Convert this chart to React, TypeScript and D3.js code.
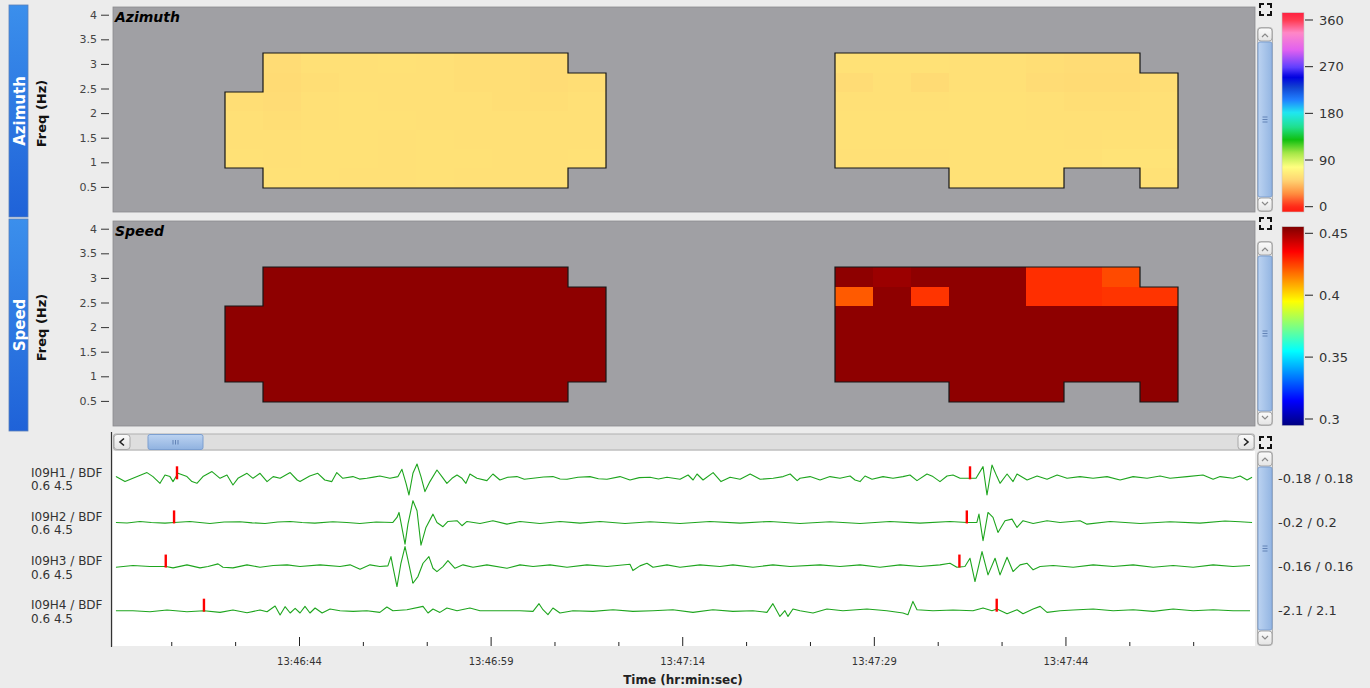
import React from "react";
import * as d3 from "d3";

// ---------------- data ----------------
// frequency bins (Hz), index 0 = lowest bin
const freqBinEdges = [0.49, 0.885, 1.275, 1.665, 2.055, 2.445, 2.835, 3.225];
const freqTicks = [0.5, 1, 1.5, 2, 2.5, 3, 3.5, 4];
// time in seconds after 13:46:29
const event1ColumnStarts = [9.17, 12.16, 15.14, 18.13, 21.11, 24.1, 27.08, 30.07, 33.05, 36.04];
const event2ColumnStarts = [56.92, 59.91, 62.89, 65.88, 68.86, 71.85, 74.83, 77.82, 80.8];
const columnWidthSec = 2.985;

// azimuth (deg); rows from lowest freq bin upward
const azimuthEvent1 = [
  [null, 59, 59, 58, 58, 59, 58, 58, 58, null],
  [59, 58, 59, 59, 58, 59, 59, 58, 58, 59],
  [58, 58, 59, 59, 58, 59, 58, 58, 58, 58],
  [58, 57, 58, 59, 59, 58, 58, 58, 58, 58],
  [57, 56, 58, 59, 58, 58, 58, 57, 57, 58],
  [null, 55, 57, 58, 58, 58, 57, 57, 56, 57],
  [null, 56, 58, 58, 59, 58, 57, 57, 56, null],
];
const azimuthEvent2 = [
  [null, null, null, 59, 59, 59, null, null, 59],
  [58, 58, 58, 59, 59, 59, 59, 60, 60],
  [59, 59, 59, 59, 59, 59, 58, 59, 59],
  [59, 59, 59, 59, 59, 58, 58, 58, 58],
  [58, 58, 58, 59, 59, 58, 57, 57, 58],
  [56, 58, 55, 58, 58, 56, 55, 55, 57],
  [59, 59, 59, 58, 58, 57, 56, 56, null],
];
// apparent speed (km/s)
const speedEvent1 = [
  [null, 0.453, 0.453, 0.453, 0.453, 0.453, 0.453, 0.453, 0.453, null],
  [0.453, 0.453, 0.453, 0.453, 0.453, 0.453, 0.453, 0.453, 0.453, 0.453],
  [0.453, 0.453, 0.453, 0.453, 0.453, 0.453, 0.453, 0.453, 0.453, 0.453],
  [0.453, 0.453, 0.453, 0.453, 0.453, 0.453, 0.453, 0.453, 0.453, 0.453],
  [0.453, 0.453, 0.453, 0.453, 0.453, 0.453, 0.453, 0.453, 0.453, 0.453],
  [null, 0.453, 0.453, 0.453, 0.453, 0.453, 0.453, 0.453, 0.453, 0.453],
  [null, 0.453, 0.453, 0.453, 0.453, 0.453, 0.453, 0.453, 0.453, null],
];
const speedEvent2 = [
  [null, null, null, 0.453, 0.453, 0.453, null, null, 0.453],
  [0.453, 0.453, 0.453, 0.453, 0.453, 0.453, 0.453, 0.453, 0.453],
  [0.453, 0.453, 0.453, 0.453, 0.453, 0.453, 0.453, 0.453, 0.453],
  [0.453, 0.453, 0.453, 0.453, 0.453, 0.453, 0.453, 0.453, 0.453],
  [0.453, 0.453, 0.453, 0.453, 0.453, 0.453, 0.453, 0.453, 0.453],
  [0.421, 0.453, 0.427, 0.453, 0.453, 0.428, 0.428, 0.427, 0.427],
  [0.453, 0.451, 0.453, 0.453, 0.453, 0.428, 0.428, 0.4235, null],
];

const azimuthTicks = [0, 90, 180, 270, 360];
const speedTicks = [0.3, 0.35, 0.4, 0.45];
const azimuthColorValues = [-10, 0, 26, 51, 77, 103, 129, 154, 181, 206, 231, 250, 269, 302, 335, 360, 374];
const azimuthColorList = ["#ff1a10", "#ff2a18", "#ff9040", "#ffd472", "#ffff80", "#a8e848", "#10c010", "#20e090", "#20e8f0", "#2080ff", "#1040d0", "#0000e0", "#6040ff", "#e060f0", "#ff88c8", "#ff3a50", "#ff2040"];

const channelNames = ["I09H1 / BDF", "I09H2 / BDF", "I09H3 / BDF", "I09H4 / BDF"];
const channelFilters = ["0.6 4.5", "0.6 4.5", "0.6 4.5", "0.6 4.5"];
const channelRanges = [0.18, 0.2, 0.16, 2.1];
const channelCalib = [0.00818, 0.00909, 0.00727, 0.0955];
const pickTimes = [[5.41, 67.49], [5.18, 67.24], [4.53, 66.66], [7.52, 69.58]];

// traces: [seconds after 13:46:29, counts]
const traceH1 = [
  [0.63, 1.7], [1.34, -3.3], [1.96, 0], [3.06, 5.7], [3.53, 1.7], [4.08, -5], [4.47, 3.3], [4.86, 1.7], [5.1, -3.3], [5.49, 5], [6.19, 1.7], [6.58, -3.3], [6.97, -5], [7.44, 1.7], [8.15, 6.7], [8.78, 0], [9.32, 3.3], [9.79, -6.7], [10.18, 0], [10.89, 5], [11.36, 0], [11.91, 5], [12.46, -3.3], [12.94, 1.7], [13.48, 0], [14.27, 5.7], [14.82, -1.7], [15.04, -3.3], [15.8, 2.3], [16.43, 5], [16.98, -1.7], [17.53, -3.3], [17.92, 5.7], [18.39, 0], [19.18, 1.7], [19.7, -0.8], [20.27, 0], [20.8, 1.2], [21.29, 2.3], [22.08, 0], [22.71, 1.7], [23.02, 9], [23.34, -5], [23.57, -16.7], [23.88, 5], [24.2, 14.3], [24.51, 1.7], [24.82, -13.3], [25.21, -3.3], [25.76, 8.3], [26.15, 1.7], [26.54, -5], [26.94, 0], [27.33, 3.3], [27.72, 0], [28.03, -5], [28.34, 4.3], [28.89, 0], [29.67, -2.3], [30.14, 4.3], [30.69, -1.7], [31.3, 1], [32.02, 1.7], [32.6, -1], [33.28, 0], [34.1, 1.3], [34.84, 1.7], [35.4, -0.7], [35.94, -1], [36.8, 1], [37.74, 1.7], [38.4, -0.5], [39.07, -1], [40.09, 1.7], [40.87, -1.7], [41.6, 0.7], [42.44, 1], [43.1, -0.7], [43.77, 1], [44.79, -1], [45.42, 3.3], [45.81, -1.7], [46.12, 4.3], [46.59, -1.7], [47.38, 5.7], [48.0, -3.3], [48.71, 1], [49.49, -1], [50.28, 4.3], [51.06, -1], [52.08, 0], [52.86, 1.7], [53.41, 4.3], [53.96, -2.3], [54.18, 0], [54.97, 1.7], [55.75, -1.7], [56.53, 1.7], [57.31, 0], [58.1, 2.3], [58.49, -1.7], [58.88, -3.3], [59.27, 2.3], [59.82, -1], [60.68, 1.7], [61.46, 0], [62.24, 1.7], [62.79, 3.3], [63.34, -2.3], [64.12, 4.3], [64.59, 1.7], [65.14, -3.3], [65.69, 2.3], [66.16, 3.3], [66.71, 0], [67.49, 0], [67.96, 0], [68.51, 11.7], [68.82, -16.7], [69.21, 13.3], [69.6, 1.7], [69.84, -5], [70.39, 4.3], [70.86, -3.3], [71.17, 4.3], [71.96, -1.7], [72.74, 2.3], [73.52, -1], [74.31, 3.3], [75.09, 0], [76.1, 1.7], [77.12, 0], [78.22, 1.7], [79.24, -1.7], [80.26, 1.7], [81.35, 0], [82.37, 2.3], [83.15, 0], [84.48, 1.7], [85.73, 3.3], [86.52, -1], [87.07, 1.7], [88.08, 0], [88.63, 2.3], [89.18, -1.7], [89.57, 1],
];
const traceH2 = [
  [0.63, 0], [1.5, -0.6], [2.51, 1], [3.4, 0], [4.47, -0.7], [5.18, 0], [6.42, 1], [7.2, 0], [7.99, -1], [9.1, 0.5], [10.34, 0.7], [11.3, -0.4], [12.3, -1], [13.3, 0.4], [14.27, 1], [15.2, 0], [16.2, -0.7], [17.61, 0.7], [18.7, 0], [19.73, -1], [21.0, 0.5], [22.31, 0], [22.63, 5], [22.79, 10], [22.94, 0], [23.26, -21.7], [23.49, -1.7], [23.88, 21.7], [24.2, 11.7], [24.51, -22.7], [24.9, -5], [25.45, 8.3], [25.76, 0], [26.23, -4.3], [26.62, 1], [27.33, 1.7], [27.72, -3.3], [28.11, 1], [29.13, -1], [30.14, 1.7], [31.24, -1.7], [32.26, 1], [33.82, -1], [35.39, 1], [36.96, -0.7], [38.52, 1], [40.48, -1], [42.44, 0.7], [44.79, -1], [47.13, 1], [49.49, -0.7], [51.84, 1], [54.18, -1], [56.53, 0.7], [58.88, -1], [61.22, 1], [63.57, -0.7], [65.92, 1], [67.24, 0], [68.03, 0], [68.19, 8.3], [68.51, -18.3], [68.9, 10], [69.29, 5], [69.68, -10], [70.23, 1.7], [70.78, 3.3], [71.17, -5], [71.64, 1.7], [72.43, -1], [73.52, 1.7], [74.54, 0], [76.1, 1.7], [76.65, -1.7], [78.46, 1], [80.81, -1], [83.15, 0.7], [85.49, -0.7], [87.45, 1.5], [88.63, 0.7], [89.57, 0],
];
const traceH3 = [
  [0.63, -0.7], [1.96, 1], [3.29, 0], [4.55, 0], [5.1, -1.3], [6.19, 1.7], [7.21, -1.3], [7.84, 0], [8.62, 2.7], [9.01, -0.7], [9.79, -1.3], [10.89, 1.7], [11.91, -0.7], [12.94, 1], [14.03, 1.7], [15.04, 0], [16.61, 1.7], [18.17, 0], [18.96, 1.7], [19.74, -2.7], [20.52, 1.7], [21.29, 0], [21.92, 0.7], [22.16, 10], [22.31, 0], [22.63, -20], [22.94, 3.3], [23.26, 20], [23.49, 6.7], [23.88, -16.7], [24.27, -10], [24.67, 3.3], [25.13, 10], [25.45, -1.7], [25.76, -5], [26.23, 0], [26.62, 6], [27.17, -1.7], [27.8, 1.7], [28.58, -0.7], [29.67, 1.7], [31.24, -1.7], [32.26, 1.7], [33.28, 0], [34.61, 1.7], [35.94, -0.7], [37.5, 1.7], [39.07, 0], [40.87, 2.3], [41.1, -4], [41.65, 0.7], [42.2, 3.3], [42.67, -0.7], [43.77, 1.7], [44.79, -0.7], [46.35, 1.7], [47.91, 0], [48.93, 1.7], [50.5, -0.7], [52.06, 1.7], [53.4, 0], [55.75, 1.7], [57.31, 0], [58.88, 1.7], [60.44, -0.7], [62.01, 1.7], [63.57, 0], [65.14, 1.7], [65.92, 3.3], [66.46, -0.7], [67.09, 0], [67.49, 8.3], [67.88, -15], [68.43, 15], [68.9, -8.3], [69.45, 8.3], [69.84, -8.3], [70.39, 9.3], [70.86, -5], [71.41, 1.7], [71.96, 3.3], [72.43, -3.3], [72.98, 0], [74.0, 1], [75.57, -0.7], [77.13, 1.7], [78.7, 0], [80.26, 1.7], [81.83, -0.7], [83.39, 1], [84.96, -0.7], [86.52, 1.7], [88.08, 0], [89.41, 1],
];
const traceH4 = [
  [0.63, 0], [1.96, 0], [3.29, -1], [4.63, 0.7], [6.19, -1], [7.52, 0], [8.78, -1.7], [9.79, 0.7], [10.89, -2], [11.91, 0.7], [12.46, -1], [13.09, 4.7], [13.48, -4.3], [13.87, 4], [14.27, -2.3], [14.66, 2.3], [15.04, -2.3], [15.43, 4.3], [15.82, -2.3], [16.22, 2.7], [16.77, -2.3], [17.39, 1.7], [18.17, 0], [19.2, -0.7], [20.27, 0], [21.29, -1.7], [21.84, 3.7], [22.31, 0], [23.41, 1], [24.67, 4.3], [25.06, -2.3], [25.45, 1.7], [25.99, -1.7], [26.54, 2.7], [27.33, 0], [28.34, 2.7], [29.13, 0], [30.69, 0], [32.26, 0], [33.28, -0.7], [33.75, 7], [34.06, 1], [34.45, -4], [34.84, 2.7], [35.39, -2.3], [36.41, 0], [37.97, -0.7], [39.54, 1], [41.1, -0.7], [42.67, 0], [44.23, 1], [45.8, -1.7], [47.36, 1], [48.93, -0.7], [50.49, 0], [51.59, -1.7], [52.06, 7], [52.61, -5.7], [53.0, 0], [53.24, -5.7], [53.63, 1.7], [54.18, 0], [55.2, -2.3], [56.29, 1.7], [57.54, 0], [59.42, 1.7], [60.98, 0], [62.24, -2.3], [62.63, -4], [63.02, 9.3], [63.34, 1], [64.59, 0], [66.16, 0.7], [67.72, 0], [68.51, 2.7], [69.21, 0], [69.6, 1.7], [70.39, -3], [71.17, 1], [71.64, -3], [72.43, 1.7], [72.98, 4.3], [73.52, -1.7], [74.54, 0], [75.57, 0.7], [77.13, 1.7], [78.7, 0], [80.26, 1], [81.83, -0.7], [83.39, 1.7], [84.96, 0], [86.52, 1], [88.08, 0], [89.41, 0],
];
const traces = [traceH1, traceH2, traceH3, traceH4];

const majorTickTimes = [15, 30, 45, 60, 75];
const majorTickLabels = ["13:46:44", "13:46:59", "13:47:14", "13:47:29", "13:47:44"];
const minorTickTimes = [5, 10, 20, 25, 35, 40, 50, 55, 65, 70, 80, 85];

// ---------------- helpers ----------------
const FONT = "DejaVu Sans";

function jet(v: number) {
  const c = (n: number) => Math.max(0, Math.min(1, n));
  const r = c(1.5 - Math.abs(4 * v - 3));
  const g = c(1.5 - Math.abs(4 * v - 2));
  const b = c(1.5 - Math.abs(4 * v - 1));
  return d3.rgb(r * 255, g * 255, b * 255).formatHex();
}

function ExpandIcon({ x, y }: { x: number; y: number }) {
  const s = 11, a = 4;
  const d = `M${x} ${y + a}V${y}H${x + a} M${x + s - a} ${y}H${x + s}V${y + a} M${x + s} ${y + s - a}V${y + s}H${x + s - a} M${x + a} ${y + s}H${x}V${y + s - a}`;
  return <path d={d} fill="none" stroke="#111" strokeWidth={2} />;
}

function VScroll({ x, y0, y1, t0, t1 }: { x: number; y0: number; y1: number; t0: number; t1: number }) {
  const w = 15;
  const mid = (t0 + t1) / 2;
  return (
    <g>
      <rect x={x + 0.5} y={y0 + 0.5} width={w} height={y1 - y0 - 1} rx={3} fill="#e2e2e2" stroke="#b0b0b0" />
      <rect x={x + 1} y={y0 + 1} width={w - 1} height={t0 - y0 - 2} rx={3} fill="url(#btnGradV)" stroke="#a8a8a8" />
      <path d={`M${x + 5} ${y0 + 10} L${x + 8} ${y0 + 7} L${x + 11} ${y0 + 10}`} fill="none" stroke="#8a8a8a" strokeWidth={1.2} />
      <rect x={x + 1} y={t0} width={w - 1} height={t1 - t0} rx={2} fill="url(#thumbGradV)" stroke="#7c9fd0" />
      {[-2.5, 0, 2.5].map((d, i) => (
        <line key={i} x1={x + 5.5} x2={x + 10.5} y1={mid + d} y2={mid + d} stroke="#5a7cb0" strokeWidth={0.9} />
      ))}
      <rect x={x + 1} y={t1 + 1} width={w - 1} height={y1 - t1 - 2} rx={3} fill="url(#btnGradV)" stroke="#a8a8a8" />
      <path d={`M${x + 5} ${y1 - 10} L${x + 8} ${y1 - 7} L${x + 11} ${y1 - 10}`} fill="none" stroke="#8a8a8a" strokeWidth={1.2} />
    </g>
  );
}

function HScroll({ x0, x1, y, t0, t1 }: { x0: number; x1: number; y: number; t0: number; t1: number }) {
  const h = 16;
  const mid = (t0 + t1) / 2;
  return (
    <g>
      <rect x={x0 + 0.5} y={y + 0.5} width={x1 - x0 - 1} height={h} rx={2} fill="#dedede" stroke="#b0b0b0" />
      <rect x={x0 + 1} y={y + 1} width={16} height={h - 1} rx={3} fill="url(#btnGradH)" stroke="#a8a8a8" />
      <path d={`M${x0 + 11} ${y + 5} L${x0 + 7} ${y + 8.5} L${x0 + 11} ${y + 12}`} fill="none" stroke="#222" strokeWidth={1.6} />
      <rect x={t0} y={y + 1} width={t1 - t0} height={h - 1} rx={2} fill="url(#thumbGradH)" stroke="#7c9fd0" />
      {[-2.5, 0, 2.5].map((d, i) => (
        <line key={i} x1={mid + d} x2={mid + d} y1={y + 6.5} y2={y + 11} stroke="#5a7cb0" strokeWidth={0.9} />
      ))}
      <rect x={x1 - 17} y={y + 1} width={16} height={h - 1} rx={3} fill="url(#btnGradH)" stroke="#a8a8a8" />
      <path d={`M${x1 - 11} ${y + 5} L${x1 - 7} ${y + 8.5} L${x1 - 11} ${y + 12}`} fill="none" stroke="#222" strokeWidth={1.6} />
    </g>
  );
}

type Matrix = (number | null)[][];

function Cells({ matrix, starts, xS, yS, color }: { matrix: Matrix; starts: number[]; xS: any; yS: any; color: (v: number) => string }) {
  const rects: any[] = [];
  const segs: string[] = [];
  const has = (r: number, c: number) => matrix[r] !== undefined && matrix[r][c] !== undefined && matrix[r][c] !== null;
  matrix.forEach((row, r) =>
    row.forEach((v, c) => {
      if (v === null) return;
      const xa = Math.round(xS(starts[c]));
      const xb = Math.round(xS(starts[c] + columnWidthSec));
      const ya = Math.round(yS(freqBinEdges[r]));
      const yb = Math.round(yS(freqBinEdges[r + 1]));
      rects.push(<rect key={`${r}-${c}`} x={xa} y={yb} width={xb - xa} height={ya - yb} fill={color(v)} />);
      if (!has(r, c - 1)) segs.push(`M${xa} ${ya}V${yb}`);
      if (!has(r, c + 1)) segs.push(`M${xb} ${ya}V${yb}`);
      if (!has(r - 1, c)) segs.push(`M${xa} ${ya}H${xb}`);
      if (!has(r + 1, c)) segs.push(`M${xa} ${yb}H${xb}`);
    })
  );
  return (
    <g>
      <g shapeRendering="crispEdges">{rects}</g>
      <path d={segs.join("")} fill="none" stroke="#161616" strokeWidth={1.2} strokeLinecap="square" />
    </g>
  );
}

export default function App() {
  const W = 1370, H = 688;
  const plotL = 113, plotR = 1255;
  const xS = d3.scaleLinear().domain([0.4, 89.8]).range([plotL, plotR]);

  const panels = [
    { key: "az", top: 7, bottom: 212, title: "Azimuth", tab: [5, 217] },
    { key: "sp", top: 221, bottom: 426, title: "Speed", tab: [219, 431] },
  ];
  const azY = d3.scaleLinear().domain([0, 4.167]).range([panels[0].bottom, panels[0].top]);
  const spY = d3.scaleLinear().domain([0, 4.167]).range([panels[1].bottom, panels[1].top]);

  const azColor = d3.scaleLinear<string>().domain(azimuthColorValues).range(azimuthColorList).interpolate(d3.interpolateRgb).clamp(true);
  const spNorm = d3.scaleLinear().domain([0.2946, 0.4553]).range([0, 1]).clamp(true);
  const spColor = (v: number) => jet(spNorm(v));

  const azCb = d3.scaleLinear().domain([0, 360]).range([206.7, 20]);
  const spCb = d3.scaleLinear().domain([0.3, 0.45]).range([419, 233.3]);
  const azBar = [12.7, 212];
  const spBar = [226.7, 425.7];
  const N = 80;
  const azStops = d3.range(N + 1).map((i) => ({ o: i / N, c: azColor(azCb.invert(azBar[0] + ((azBar[1] - azBar[0]) * i) / N)) }));
  const spStops = d3.range(N + 1).map((i) => ({ o: i / N, c: spColor(spCb.invert(spBar[0] + ((spBar[1] - spBar[0]) * i) / N)) }));

  const waveTop = 451, waveBottom = 646;
  const centers = channelNames.map((_, i) => 478.3 + i * 44.13);

  return (
    <svg width={W} height={H} style={{ position: "absolute", left: 0, top: 0, fontFamily: FONT }}>
      <defs>
        <linearGradient id="tabGrad" x1="0" y1="0" x2="0" y2="1">
          <stop offset="0" stopColor="#3b8fec" />
          <stop offset="1" stopColor="#1f62d8" />
        </linearGradient>
        <linearGradient id="btnGradV" x1="0" y1="0" x2="0" y2="1">
          <stop offset="0" stopColor="#fbfbfb" />
          <stop offset="1" stopColor="#e4e4e4" />
        </linearGradient>
        <linearGradient id="btnGradH" x1="0" y1="0" x2="0" y2="1">
          <stop offset="0" stopColor="#fbfbfb" />
          <stop offset="1" stopColor="#e2e2e2" />
        </linearGradient>
        <linearGradient id="thumbGradV" x1="0" y1="0" x2="1" y2="0">
          <stop offset="0" stopColor="#bcd3f1" />
          <stop offset="1" stopColor="#93b5e2" />
        </linearGradient>
        <linearGradient id="thumbGradH" x1="0" y1="0" x2="0" y2="1">
          <stop offset="0" stopColor="#bcd3f1" />
          <stop offset="1" stopColor="#90b2e0" />
        </linearGradient>
        <linearGradient id="azBarGrad" x1="0" y1="0" x2="0" y2="1">
          {azStops.map((s, i) => <stop key={i} offset={s.o} stopColor={s.c} />)}
        </linearGradient>
        <linearGradient id="spBarGrad" x1="0" y1="0" x2="0" y2="1">
          {spStops.map((s, i) => <stop key={i} offset={s.o} stopColor={s.c} />)}
        </linearGradient>
        <clipPath id="waveClip">
          <rect x={plotL} y={waveTop} width={plotR - plotL} height={waveBottom - waveTop} />
        </clipPath>
      </defs>

      <rect x={0} y={0} width={W} height={H} fill="#ececec" />

      {panels.map((p, pi) => {
        const yS = pi === 0 ? azY : spY;
        return (
          <g key={p.key}>
            <rect x={9} y={p.tab[0]} width={19} height={p.tab[1] - p.tab[0]} fill="url(#tabGrad)" stroke="#5b7fb8" strokeWidth={0.8} />
            <text transform={`translate(19.5,${(p.tab[0] + p.tab[1]) / 2}) rotate(-90)`} textAnchor="middle" dominantBaseline="central" fill="#fff" fontWeight="bold" fontSize={15}>
              {p.title}
            </text>
            <text transform={`translate(41,${(p.top + p.bottom) / 2 + 4}) rotate(-90)`} textAnchor="middle" dominantBaseline="central" fill="#111" fontWeight="bold" fontSize={13}>
              Freq (Hz)
            </text>
            {freqTicks.map((f) => (
              <g key={f}>
                <line x1={101} x2={109} y1={yS(f)} y2={yS(f)} stroke="#333" strokeWidth={1} />
                <text x={97} y={yS(f)} textAnchor="end" dominantBaseline="central" fontSize={11} fill="#444">
                  {f}
                </text>
              </g>
            ))}
            <rect x={plotL} y={p.top} width={plotR - plotL} height={p.bottom - p.top} fill="#a0a0a4" stroke="#8a8a8e" strokeWidth={0.8} />
            {pi === 0 ? (
              <>
                <Cells matrix={azimuthEvent1} starts={event1ColumnStarts} xS={xS} yS={yS} color={(v) => azColor(v)} />
                <Cells matrix={azimuthEvent2} starts={event2ColumnStarts} xS={xS} yS={yS} color={(v) => azColor(v)} />
              </>
            ) : (
              <>
                <Cells matrix={speedEvent1} starts={event1ColumnStarts} xS={xS} yS={yS} color={spColor} />
                <Cells matrix={speedEvent2} starts={event2ColumnStarts} xS={xS} yS={yS} color={spColor} />
              </>
            )}
            <text x={115} y={p.top + 15} fontWeight="bold" fontStyle="italic" fontSize={14} fill="#000">
              {p.title}
            </text>
            <ExpandIcon x={1260} y={p.top - 3} />
            <VScroll x={1257} y0={p.top + 20} y1={p.bottom} t0={p.top + 35} t1={p.bottom - 15} />
          </g>
        );
      })}

      <rect x={1282} y={azBar[0]} width={22} height={azBar[1] - azBar[0]} fill="url(#azBarGrad)" stroke="#c8c8c8" strokeWidth={0.6} />
      {azimuthTicks.map((t) => (
        <g key={t}>
          <line x1={1305} x2={1313} y1={azCb(t)} y2={azCb(t)} stroke="#222" />
          <text x={1319} y={azCb(t)} dominantBaseline="central" fontSize={13} fill="#333">
            {t}
          </text>
        </g>
      ))}
      <rect x={1282} y={spBar[0]} width={22} height={spBar[1] - spBar[0]} fill="url(#spBarGrad)" stroke="#c8c8c8" strokeWidth={0.6} />
      {speedTicks.map((t) => (
        <g key={t}>
          <line x1={1305} x2={1313} y1={spCb(t)} y2={spCb(t)} stroke="#222" />
          <text x={1319} y={spCb(t)} dominantBaseline="central" fontSize={13} fill="#333">
            {t}
          </text>
        </g>
      ))}

      <rect x={plotL} y={waveTop} width={plotR - plotL} height={waveBottom - waveTop} fill="#fff" />
      <HScroll x0={plotL} x1={plotR} y={433.5} t0={148} t1={203} />
      <ExpandIcon x={1260} y={437} />
      <VScroll x={1257} y0={451} y1={646} t0={467} t1={630} />
      <line x1={111.5} x2={111.5} y1={432} y2={647} stroke="#333" strokeWidth={1.2} />

      <g clipPath="url(#waveClip)">
        {traces.map((tr, i) => {
          const yS = d3.scaleLinear().domain([-channelRanges[i], channelRanges[i]]).range([centers[i] + 22, centers[i] - 22]);
          const line = d3
            .line<number[]>()
            .x((d) => xS(d[0]))
            .y((d) => yS(d[1] * channelCalib[i]))
            .curve(d3.curveLinear);
          return <path key={i} d={line(tr as number[][]) || ""} fill="none" stroke="#1ea51e" strokeWidth={1.1} strokeLinejoin="round" />;
        })}
        {pickTimes.map((pts, i) =>
          pts.map((t, j) => (
            <line key={`${i}-${j}`} x1={xS(t)} x2={xS(t)} y1={centers[i] + 1} y2={centers[i] - 12} stroke="#f00" strokeWidth={2.4} />
          ))
        )}
      </g>

      {channelNames.map((n, i) => (
        <g key={n}>
          <text x={31} y={centers[i] - 1.5} fontSize={12} fill="#333">
            {n}
          </text>
          <text x={31} y={centers[i] + 12} fontSize={12} fill="#333">
            {channelFilters[i]}
          </text>
          <text x={1278} y={centers[i] + 4.5} fontSize={13} fill="#333">
            {`-${channelRanges[i]} / ${channelRanges[i]}`}
          </text>
        </g>
      ))}

      {minorTickTimes.map((t) => (
        <line key={t} x1={xS(t)} x2={xS(t)} y1={waveBottom - 4} y2={waveBottom} stroke="#222" />
      ))}
      {majorTickTimes.map((t, i) => (
        <g key={t}>
          <line x1={xS(t)} x2={xS(t)} y1={waveBottom - 9} y2={waveBottom} stroke="#222" />
          <text x={xS(t)} y={665} textAnchor="middle" fontSize={10} fill="#333">
            {majorTickLabels[i]}
          </text>
        </g>
      ))}
      <text x={683} y={684} textAnchor="middle" fontWeight="bold" fontSize={12} fill="#222">
        Time (hr:min:sec)
      </text>
    </svg>
  );
}
